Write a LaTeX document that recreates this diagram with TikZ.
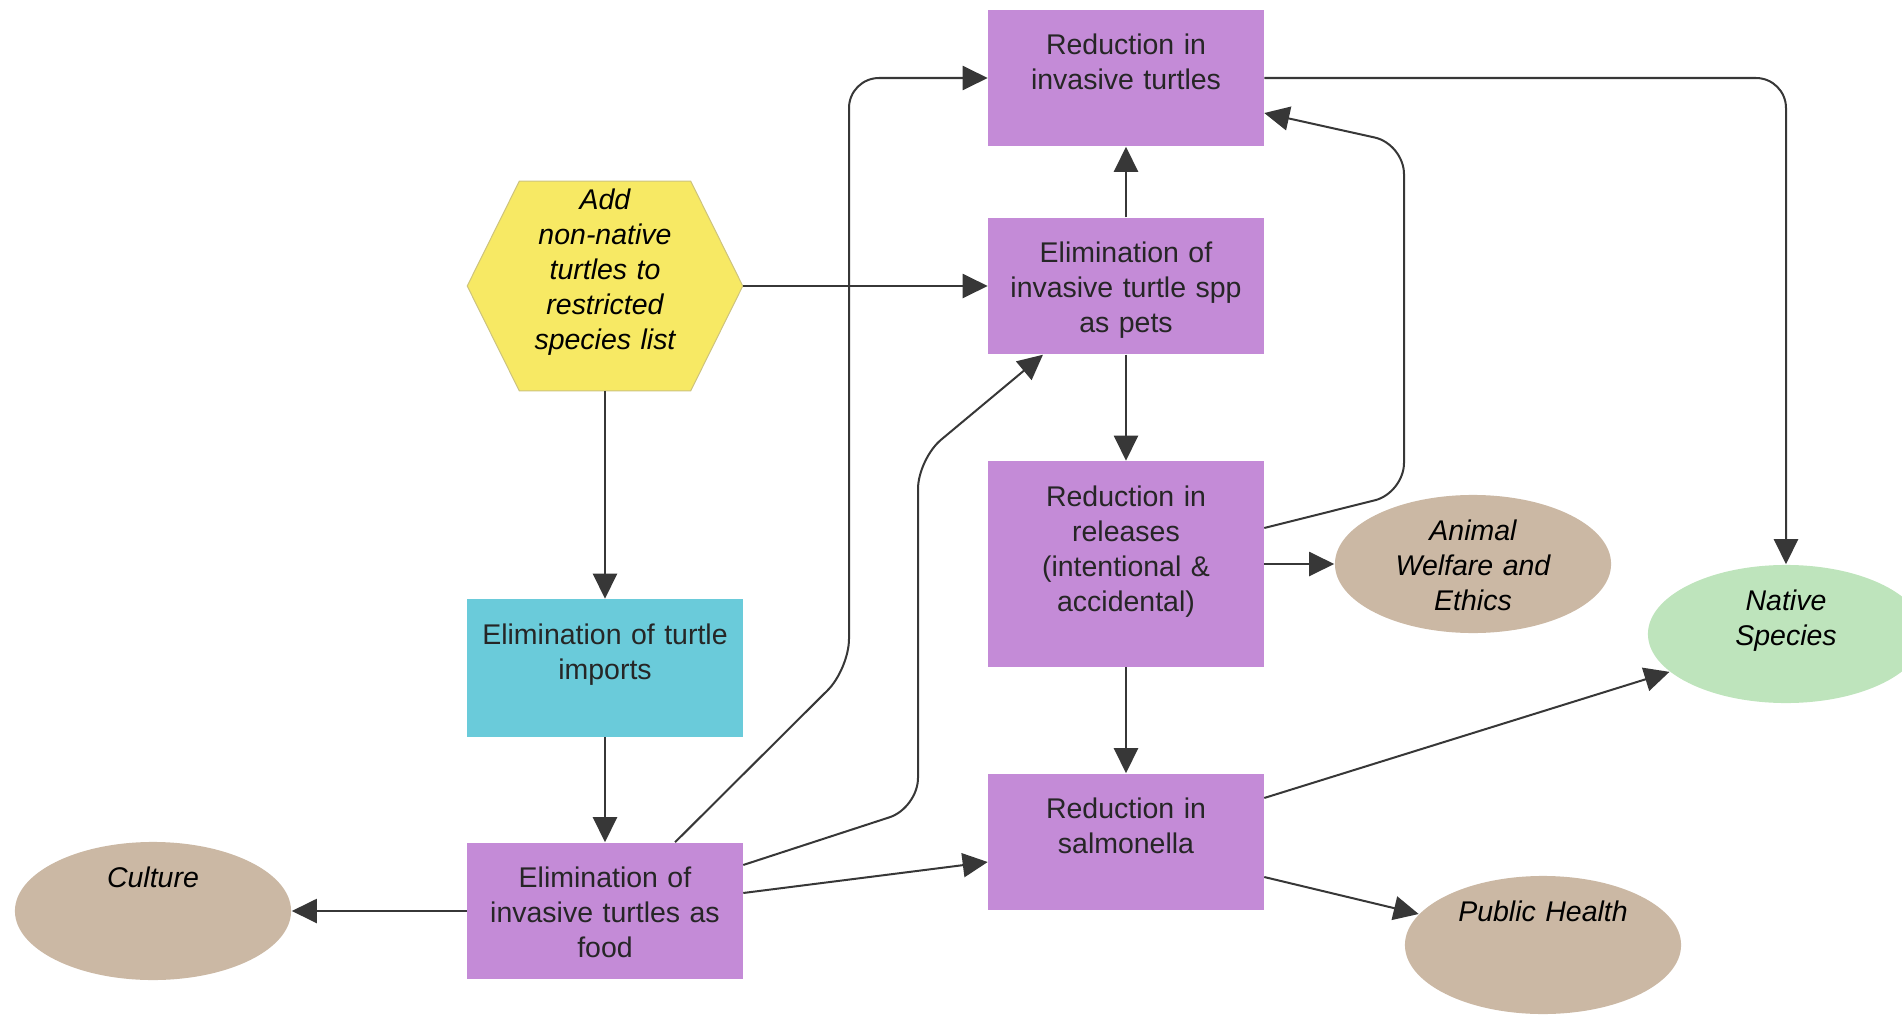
\documentclass[tikz,border=0pt]{standalone}
\usepackage{fontspec}
\setmainfont{Liberation Sans}
\usetikzlibrary{arrows.meta, shapes.geometric, backgrounds}
\definecolor{boxpurple}{RGB}{196,139,215}
\definecolor{importcyan}{RGB}{106,203,218}
\definecolor{hexyellow}{RGB}{247,233,100}
\definecolor{hexedge}{RGB}{205,195,125}
\definecolor{valuetan}{RGB}{203,184,164}
\definecolor{nativegreen}{RGB}{190,228,188}
\definecolor{linkgray}{RGB}{55,55,55}
\newcommand{\labelfont}{\fontsize{8.1}{9.95}\selectfont}

\tikzset{
  factor/.style={rectangle, fill=boxpurple, text=black!85, inner sep=0pt,
    text width=2.75cm, align=center, text height=0.45cm, text depth=0.91cm,
    font=\labelfont},
  hexbox/.style={rectangle, inner sep=0pt, text width=2.74cm, align=center,
    text height=0.28cm, text depth=1.80cm, font=\labelfont\itshape},
  value/.style={ellipse, fill=valuetan, inner sep=0pt, minimum width=2.76cm,
    minimum height=1.38cm, text width=1.9cm, align=center, text height=0.1cm,
    text depth=0.56cm, font=\labelfont\itshape},
  link/.style={draw=linkgray, line width=0.02cm,
    -{Triangle[length=0.25cm,width=0.24cm]}},
}

\begin{document}
\begin{tikzpicture}[x=0.01cm, y=-0.01cm]

  \useasboundingbox (0,0) rectangle (1902,1015);
  \clip (0,0) rectangle (1902,1015);

  % regulation (hexagon)
  \node[hexbox] (hex) at (605,286) {Add\\non-native\\turtles to\\restricted\\species list};
  \begin{pgfonlayer}{background}
    \filldraw[fill=hexyellow, draw=hexedge, line width=0.01cm]
      (hex.west) -- ([xshift=0.52cm]hex.north west) -- ([xshift=-0.52cm]hex.north east)
      -- (hex.east) -- ([xshift=-0.52cm]hex.south east) -- ([xshift=0.52cm]hex.south west) -- cycle;
  \end{pgfonlayer}

  % left column
  \node[factor, fill=importcyan, text depth=0.92cm] (imp) at (605,668) {Elimination of turtle\\imports};
  \node[factor] (food) at (605,911) {Elimination of\\invasive turtles as\\food};

  % middle column
  \node[factor] (rit) at (1126,78) {Reduction in\\invasive turtles};
  \node[factor] (pets) at (1126,286) {Elimination of\\invasive turtle spp\\as pets};
  \node[factor, text depth=1.60cm] (rel) at (1126,564) {Reduction in\\releases\\(intentional \&\\accidental)};
  \node[factor] (sal) at (1126,842) {Reduction in\\salmonella};

  % values
  \node[value] (culture) at (153,911) {Culture};
  \node[value] (animal) at (1473,564) {Animal\\Welfare and\\Ethics};
  \node[value, fill=nativegreen] (native) at (1786,634) {Native\\Species};
  \node[value] (health) at (1543,945) {Public Health};

  % links
  \draw[link] (hex.south) -- (imp.north);
  \draw[link] (imp.south) -- (food.north);
  \draw[link] (hex.east) -- (pets.west);
  \draw[link] (pets.north) -- (rit.south);
  \draw[link] (pets.south) -- (rel.north);
  \draw[link] (rel.south) -- (sal.north);
  \draw[link] (rel.east) -- (animal.west);
  \draw[link, rounded corners=0.3cm] ([yshift=0.36cm]rel.east) -- (1404,493) -- (1404,144) -- ([yshift=-0.35cm]rit.east);
  \draw[link, rounded corners=0.3cm] (rit.east) -| (native.north);
  \draw[link] ([yshift=0.44cm]sal.east) -- (native.198);
  \draw[link] ([yshift=-0.35cm]sal.east) -- (health.166);
  \draw[link] (food.west) -- (culture.east);
  \draw[link] ([yshift=0.18cm]food.east) -- ([yshift=-0.20cm]sal.west);
  \draw[link, rounded corners=0.3cm] ([xshift=0.70cm]food.north) -- (849,669) -- (849,78) -- (rit.west);
  \draw[link, rounded corners=0.3cm] ([yshift=0.46cm]food.east) -- (918,808) -- (918,459) -- ([xshift=-0.83cm]pets.south);

\end{tikzpicture}
\end{document}
